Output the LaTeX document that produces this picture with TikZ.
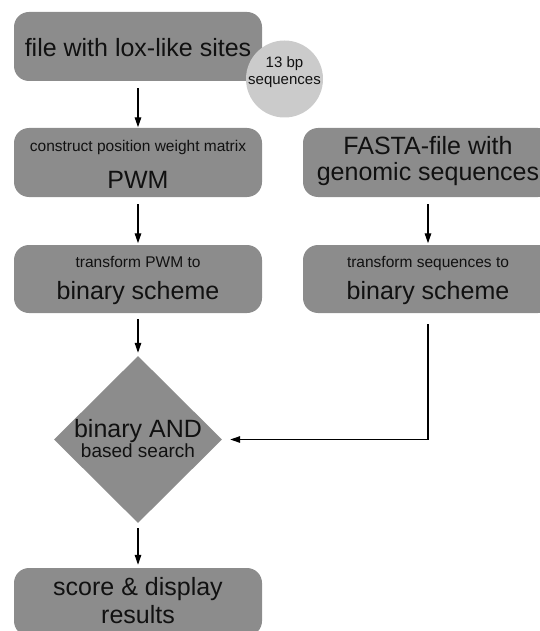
\documentclass[tikz,border=0pt]{standalone}
\usepackage{fontspec}
\setmainfont{Liberation Sans}
\usetikzlibrary{shapes.geometric,arrows.meta}
\definecolor{boxgray}{HTML}{8C8C8C}
\definecolor{circgray}{HTML}{CBCBCB}
\definecolor{txt}{HTML}{111111}
\newcommand\fsL{\fontsize{25}{29}\selectfont}
\newcommand\fsS{\fontsize{15.5}{18}\selectfont}
\newcommand\fsM{\fontsize{19}{22}\selectfont}
\newcommand\fsC{\fontsize{15}{17}\selectfont}
\tikzset{
  box/.style={rectangle, rounded corners=15pt, fill=boxgray, draw=none,
    minimum width=248pt, minimum height=68pt, inner sep=0pt},
  dia/.style={diamond, fill=boxgray, draw=none, minimum width=168pt,
    minimum height=167pt, inner sep=0pt},
  bubble/.style={circle, fill=circgray, draw=none, minimum size=77pt, inner sep=0pt},
  tl/.style={anchor=base, text=txt, inner sep=0pt, font=\fsL},
  ts/.style={anchor=base, text=txt, inner sep=0pt, font=\fsS},
  tm/.style={anchor=base, text=txt, inner sep=0pt, font=\fsM},
  tc/.style={anchor=base, text=txt, inner sep=0pt, font=\fsC},
  arr/.style={-{Triangle[length=10pt,width=6.5pt]}, line width=1.3pt, draw=black},
}
\begin{document}
\begin{tikzpicture}[x=1pt,y=-1pt]
\useasboundingbox (0,0) rectangle (539,631);
% boxes
\node[box, minimum height=69pt] (b1) at (138,46.5) {};
\node[bubble] (c) at (284.5,79) {};
\node[box, minimum height=69pt] (b2) at (138,162.5) {};
\node[box, minimum width=250pt, minimum height=69pt] (f1) at (428,162.5) {};
\node[box] (b3) at (138,279) {};
\node[box, minimum width=250pt] (f2) at (428,279) {};
\node[dia] (d) at (138,439.5) {};
\node[box] (b5) at (138,602) {};
% texts
\node[tl] (t1) at (138,57) {file with lox-like sites};
\node[tc] (c1) at (284.5,68) {13 bp};
\node[tc] (c2) at (284.5,85) {sequences};
\node[ts] (t2a) at (138,152) {construct position weight matrix};
\node[tl] (t2b) at (138,188) {PWM};
\node[tl] (f1a) at (428,155) {FASTA-file with};
\node[tl] (f1b) at (428,181) {genomic sequences};
\node[ts] (t3a) at (138,267) {transform PWM to};
\node[tl] (t3b) at (138,299) {binary scheme};
\node[ts] (f2a) at (428,267) {transform sequences to};
\node[tl] (f2b) at (428,299) {binary scheme};
\node[tl] (da) at (138,437) {binary AND};
\node[tm] (db) at (138,457) {based search};
\node[tl] (t5a) at (138,595) {score \& display};
\node[tl] (t5b) at (138,623) {results};
% connectors
\coordinate (corner) at (f2.south |- d.east);
\draw[arr, shorten <=7pt, shorten >=0.5pt] (b1.south) -- (b2.north);
\draw[arr, shorten <=7pt, shorten >=1.5pt] (b2.south) -- (b3.north);
\draw[arr, shorten <=7pt, shorten >=1.5pt] (f1.south) -- (f2.north);
\draw[arr, shorten <=6pt, shorten >=3pt] (b3.south) -- (d.north);
\draw[arr, shorten <=5pt, shorten >=3pt] (d.south) -- (b5.north);
\draw[arr, shorten <=11pt, shorten >=8pt] (f2.south) -- (corner) -- (d.east);
\end{tikzpicture}
\end{document}
